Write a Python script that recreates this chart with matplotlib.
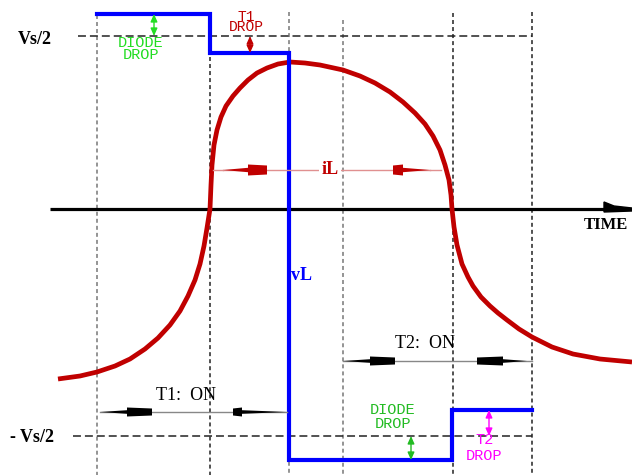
import matplotlib
matplotlib.use("Agg")
import matplotlib.pyplot as plt
from matplotlib.patches import Polygon

# Switching instants (time units) and reference levels
switch_times = [97, 210, 289, 343, 453, 532]
switch_tops = [194, 152, 197, 189, 196, 197]
vs_half = 173
neg_vs_half = -227

# Load voltage vL (square wave with device drops)
vL_t = [97, 210, 210, 289, 289, 452, 452, 532]
vL_v = [195, 195, 156, 156, -251, -251, -201, -201]

# Load current iL
iL_t = [58, 80, 97, 115, 130, 145, 158, 170, 180, 188, 195, 200, 204, 207, 210,
        211, 212, 214, 217, 221, 226, 233, 240, 248, 257, 267, 278, 290, 305,
        320, 343, 360, 375, 390, 403, 415, 425, 433, 440, 445, 449, 451, 452,
        454, 457, 462, 468, 473, 481, 490, 498, 507, 519, 532, 552, 573, 600, 632]
iL_v = [-170, -167, -163, -157, -150, -140, -129, -116, -102, -87, -71, -55, -37,
        -19, 0, 24, 44, 64, 79, 92, 103, 113, 121, 129, 136, 141, 145, 147, 146,
        144, 139, 133, 126, 117, 107, 96, 85, 73, 59, 44, 29, 14, 0,
        -18, -36, -55, -68, -77, -88, -97, -104, -111, -120, -128, -138, -145,
        -150, -153]

level_labels = ["Vs/2", "- Vs/2"]
axis_label = "TIME"
span_labels = ["T1:  ON", "T2:  ON"]

RED = "#C00000"
BLUE = "#0000FF"
SERIF = "Liberation Serif"
MONO = "Liberation Mono"

fig = plt.figure(figsize=(6.32, 4.75), dpi=100)
ax = fig.add_axes([0, 0, 1, 1])
ax.set_xlim(0, 632)
ax.set_ylim(-266, 209)
ax.axis("off")

# vertical guide lines at the switching instants
guide_colors = ["#777777", "#222222", "#777777", "#777777", "#222222", "#222222"]
for t, top, c in zip(switch_times, switch_tops, guide_colors):
    ax.plot([t, t], [top, -266], color=c, lw=1.1, dashes=(2.6, 2.0), zorder=1)

# +/- Vs/2 reference levels
ax.plot([78, switch_times[-1]], [vs_half, vs_half], color="#222222", lw=1.1,
         dashes=(5.2, 2.6), zorder=1)
ax.plot([73, switch_times[-1]], [neg_vs_half, neg_vs_half], color="#222222", lw=1.1,
         dashes=(5.2, 2.6), zorder=1)

# time axis with arrow head
ax.plot([50, 606], [0, 0], color="black", lw=2.3, zorder=2, solid_capstyle="butt")
ax.add_patch(Polygon([(604, 7), (604, -3), (632, -2), (632, 1), (614, 3)],
                     closed=True, color="black", zorder=2))
ax.text(606, -16, axis_label, fontsize=12, fontweight="bold", family=SERIF,
        ha="center", va="center")

# level labels
ax.text(18, 170, level_labels[0], fontsize=13, fontweight="bold", family=SERIF,
        ha="left", va="center")
ax.text(10, -228, level_labels[1], fontsize=13, fontweight="bold", family=SERIF,
        ha="left", va="center")

# waveforms
ax.plot(iL_t, iL_v, color=RED, lw=3.4, zorder=3, solid_joinstyle="round",
        solid_capstyle="butt")
ax.plot(vL_t, vL_v, color=BLUE, lw=3.0, zorder=4, solid_joinstyle="miter")


def span_arrow(y, tip_l, blk_l, blk_r, tip_r, color, thin_color, blk_w_l, blk_w_r,
               wedge=2.0, blk_h=4.5, end_r=None):
    """Two-headed span marker: wedges from each tip into a block, thin line between."""
    end_r = tip_r if end_r is None else end_r
    ax.plot([tip_l, end_r], [y, y], color=thin_color, lw=1.0, zorder=5)
    # left wedge + block
    ax.add_patch(Polygon([(tip_l, y), (blk_l, y + wedge), (blk_l, y - wedge)],
                         closed=True, color=color, zorder=6, lw=0))
    ax.add_patch(Polygon([(blk_l, y + blk_h), (blk_l + blk_w_l, y + blk_h - 1),
                          (blk_l + blk_w_l, y - blk_h + 1), (blk_l, y - blk_h)],
                         closed=True, color=color, zorder=6, lw=0))
    # right block + wedge
    ax.add_patch(Polygon([(blk_r - blk_w_r, y + blk_h - 1), (blk_r, y + blk_h),
                          (blk_r, y - blk_h), (blk_r - blk_w_r, y - blk_h + 1)],
                         closed=True, color=color, zorder=6, lw=0))
    ax.add_patch(Polygon([(tip_r, y), (blk_r, y + wedge), (blk_r, y - wedge)],
                         closed=True, color=color, zorder=6, lw=0))


# iL span marker
span_arrow(39, 223, 248, 403, 430, RED, "#E09090", 19, 10, wedge=2.2, blk_h=5.5)
ax.plot([213, 223], [39, 39], color="#E09090", lw=1.0, zorder=5)
ax.plot([430, 441], [39, 39], color="#E09090", lw=1.0, zorder=5)
ax.text(330, 40, "iL", fontsize=13, fontweight="bold", family=SERIF, color=RED,
        ha="center", va="center", zorder=7,
        bbox=dict(facecolor="white", edgecolor="none", pad=1.5))

# vL label
ax.text(291, -66, "vL", fontsize=13, fontweight="bold", family=SERIF, color=BLUE,
        ha="left", va="center", zorder=7)

# T1 / T2 conduction spans
span_arrow(-203, 100, 127, 242, 287, "black", "#888888", 25, 9, wedge=1.8, blk_h=4.5)
ax.text(186, -186, span_labels[0], fontsize=13, family=SERIF, ha="center",
        va="center")
span_arrow(-152, 343, 370, 503, 527, "black", "#888888", 25, 26, wedge=1.8, blk_h=4.5,
           end_r=532)
ax.text(425, -134, span_labels[1], fontsize=13, family=SERIF, ha="center",
        va="center")


# device-drop markers
def drop_arrow(x, y0, y1, color):
    ax.annotate("", xy=(x, y1), xytext=(x, y0),
                arrowprops=dict(arrowstyle="<|-|>,head_length=0.45,head_width=0.2",
                                color=color, lw=1.0, shrinkA=0, shrinkB=0,
                                mutation_scale=10), zorder=6)


def drop_label(x, y, text, color, size=11, spacing=0.8):
    ax.text(x, y, text, fontsize=size, family=MONO, color=color, ha="center",
            va="center", multialignment="center", linespacing=spacing)


GREEN = "#22DD22"
GREEN2 = "#22BB22"
MAGENTA = "#FF00FF"

drop_arrow(154, 195, 173, GREEN)
drop_label(141, 160, "DIODE\nDROP", GREEN)

drop_arrow(250, 173, 156, RED)
drop_label(246, 187, "T1\nDROP", RED, size=10.5, spacing=0.7)

drop_arrow(411, -227, -251, GREEN2)
drop_label(393, -208, "DIODE\nDROP", GREEN2, spacing=1.0)

drop_arrow(489, -201, -227, MAGENTA)
drop_label(484, -239, "T2\nDROP", MAGENTA, spacing=1.1)

fig.savefig("out.png", dpi=100, facecolor="white")
